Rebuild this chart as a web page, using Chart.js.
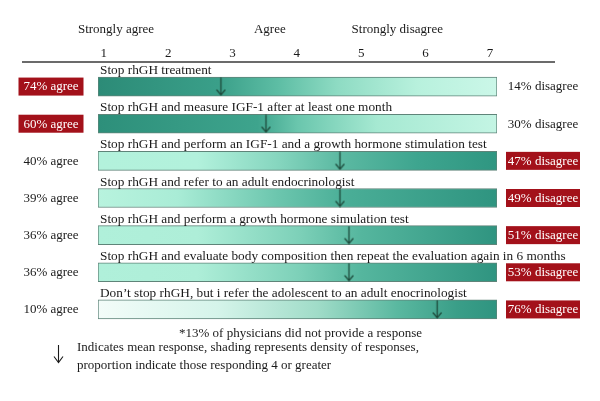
<!DOCTYPE html>
<html><head><meta charset="utf-8">
<script src="https://cdn.jsdelivr.net/npm/chart.js@4"></script>
<style>html,body{margin:0;padding:0;background:#fff}</style>
</head><body>
<canvas id="c" width="600" height="401"></canvas>
<script>
// ---- data ----
const QUESTIONS = [
  'Stop rhGH treatment',
  'Stop rhGH and measure IGF-1 after at least one month',
  'Stop rhGH and perform an IGF-1 and a growth hormone stimulation test',
  'Stop rhGH and refer to an adult endocrinologist',
  'Stop rhGH and perform a growth hormone simulation test',
  'Stop rhGH and evaluate body composition then repeat the evaluation again in 6 months',
  'Don\u2019t stop rhGH, but i refer the adolescent to an adult enocrinologist'
];
const MEAN_RESPONSE = [2.82, 3.52, 4.67, 4.67, 4.81, 4.81, 6.18];
const AGREE_PCT = [74, 60, 40, 39, 36, 36, 10];
const DISAGREE_PCT = [14, 30, 47, 49, 51, 53, 76];
const SCALE_TICKS = [1, 2, 3, 4, 5, 6, 7];
const BAR_SPAN = [0.91, 7.11];
const ANCHOR_LABELS = ['Strongly agree', 'Agree', 'Strongly disagree'];
const ANCHOR_VALUES = [1.19, 3.58, 5.56];
const FOOTNOTE = '*13% of physicians did not provide a response';
const LEGEND_LINES = ['Indicates mean response, shading represents density of responses,',
                      'proportion indicate those responding 4 or greater'];
// density shading per row: [fraction along bar, colour]
const DENSITY_SHADING = [
  [[0,'#2c8b77'],[0.3,'#3a9f89'],[0.45,'#5dbda4'],[0.6,'#8edbc3'],[0.8,'#b8f1dd'],[1,'#cbf7e8']],
  [[0,'#2d8f7a'],[0.4,'#3ea48d'],[0.5,'#6ac6ad'],[0.7,'#a6e9d2'],[1,'#c4f5e4']],
  [[0,'#b3f2dc'],[0.25,'#b2f1dc'],[0.45,'#86d6bf'],[0.6,'#5dbaa3'],[0.8,'#3ea58f'],[1,'#2f9681']],
  [[0,'#b8f3de'],[0.2,'#a9ecd6'],[0.45,'#6cc6ae'],[0.62,'#4aae97'],[1,'#2f9480']],
  [[0,'#b0f0da'],[0.25,'#aeeed8'],[0.5,'#7ed1b9'],[0.66,'#55b69e'],[1,'#2f9480']],
  [[0,'#b0f0da'],[0.25,'#aeeed8'],[0.5,'#7ed1b9'],[0.66,'#55b69e'],[1,'#2f9480']],
  [[0,'#f3fcf9'],[0.3,'#d5f4ea'],[0.55,'#a0dcc8'],[0.75,'#5ab8a0'],[0.9,'#3a9e88'],[1,'#2f9480']]
];

const SERIF = '"Liberation Serif", "Times New Roman", serif';
const RED = '#a3111a';
const ARROW_COLOR = '#1d4a3b';

// arrow marker for mean response
function makeArrow() {
  const c = document.createElement('canvas');
  c.width = 11; c.height = 19;
  const g = c.getContext('2d');
  g.strokeStyle = ARROW_COLOR; g.lineWidth = 1.3; g.lineCap = 'round';
  g.beginPath(); g.moveTo(5.5, 1); g.lineTo(5.5, 17.5); g.stroke();
  g.beginPath(); g.moveTo(1.5, 13); g.lineTo(5.5, 17.8); g.lineTo(9.5, 13); g.stroke();
  return c;
}

function shading(ctx) {
  const chart = ctx.chart; const ca = chart.chartArea;
  if (!ca) return '#3ea48d';
  const x = chart.scales.x;
  const x0 = x.getPixelForValue(BAR_SPAN[0]), x1 = x.getPixelForValue(BAR_SPAN[1]);
  const grad = chart.ctx.createLinearGradient(x0, 0, x1, 0);
  DENSITY_SHADING[ctx.dataIndex].forEach(([f, col]) => grad.addColorStop(f, col));
  return grad;
}

const annotations = {
  id: 'annotations',
  afterDatasetsDraw(chart) {
    const {ctx, chartArea: ca, scales: {x}} = chart;
    const bars = chart.getDatasetMeta(0).data;
    ctx.save();
    // ruler line
    ctx.strokeStyle = '#3a3a3a'; ctx.lineWidth = 1.5;
    ctx.beginPath(); ctx.moveTo(ca.left - 76, ca.top - 6); ctx.lineTo(ca.right + 58, ca.top - 6); ctx.stroke();
    ctx.fillStyle = '#1a1a1a';
    ctx.font = '13px ' + SERIF;
    ctx.textAlign = 'center'; ctx.textBaseline = 'alphabetic';
    ANCHOR_LABELS.forEach((t, i) => ctx.fillText(t, x.getPixelForValue(ANCHOR_VALUES[i]), ca.top - 35));
    bars.forEach((b, i) => {
      const top = b.y - b.height / 2;
      ctx.fillStyle = '#1a1a1a';
      ctx.font = '13.3px ' + SERIF;
      ctx.textAlign = 'left'; ctx.textBaseline = 'alphabetic';
      ctx.fillText(QUESTIONS[i], ca.left + 2, top - 3);
      ctx.font = '13px ' + SERIF;
      const agreeHi = AGREE_PCT[i] > DISAGREE_PCT[i];
      const ax = ca.left - 47, dx = ca.right + 46;
      if (agreeHi) { ctx.fillStyle = RED; ctx.fillRect(ax - 32.5, b.y - 9, 65, 18); }
      ctx.fillStyle = agreeHi ? '#fff' : '#1a1a1a';
      ctx.textAlign = 'center'; ctx.textBaseline = 'middle';
      ctx.fillText(AGREE_PCT[i] + '% agree', ax, b.y + 0.5);
      if (!agreeHi) { ctx.fillStyle = RED; ctx.fillRect(dx - 37, b.y - 9, 74, 18); }
      ctx.fillStyle = !agreeHi ? '#fff' : '#1a1a1a';
      ctx.fillText(DISAGREE_PCT[i] + '% disagree', dx, b.y + 0.5);
    });
    // footnotes
    ctx.fillStyle = '#1a1a1a';
    ctx.textAlign = 'center'; ctx.textBaseline = 'alphabetic';
    ctx.font = '13px ' + SERIF;
    ctx.fillText(FOOTNOTE, (ca.left + ca.right) / 2 + 3, ca.bottom + 9);
    ctx.textAlign = 'left';
    ctx.fillText(LEGEND_LINES[0], 77, ca.bottom + 23);
    ctx.fillText(LEGEND_LINES[1], 77, ca.bottom + 41);
    // legend arrow symbol
    ctx.strokeStyle = '#1a1a1a'; ctx.lineWidth = 1.1;
    ctx.beginPath(); ctx.moveTo(58.5, ca.bottom + 17); ctx.lineTo(58.5, ca.bottom + 34); ctx.stroke();
    ctx.beginPath(); ctx.moveTo(54, ca.bottom + 28.5); ctx.lineTo(58.5, ca.bottom + 34.5); ctx.lineTo(63, ca.bottom + 28.5); ctx.stroke();
    ctx.restore();
  }
};

new Chart(document.getElementById('c'), {
  type: 'bar',
  data: {
    labels: QUESTIONS,
    datasets: [
      {
        type: 'bar',
        data: QUESTIONS.map(() => BAR_SPAN),
        backgroundColor: shading,
        borderColor: '#5f8479',
        borderWidth: 1,
        borderSkipped: false,
        barThickness: 19,
        order: 2
      },
      {
        type: 'scatter',
        data: MEAN_RESPONSE.map((m, i) => ({x: m, y: QUESTIONS[i]})),
        pointStyle: makeArrow(),
        pointRadius: 10,
        order: 1
      }
    ]
  },
  options: {
    indexAxis: 'y',
    responsive: false,
    animation: false,
    layout: {padding: {left: 98, right: 103, top: 39.4, bottom: 73}},
    plugins: {legend: {display: false}, tooltip: {enabled: false}},
    scales: {
      x: {
        type: 'linear', position: 'top',
        min: BAR_SPAN[0], max: BAR_SPAN[1],
        afterBuildTicks: s => { s.ticks = SCALE_TICKS.map(v => ({value: v})); },
        grid: {display: false, drawTicks: false},
        border: {display: false},
        ticks: {padding: 6.5, color: '#1a1a1a', font: {family: SERIF, size: 13}}
      },
      y: {type: 'category', display: false, offset: true}
    }
  },
  plugins: [annotations]
});
</script>
</body></html>
